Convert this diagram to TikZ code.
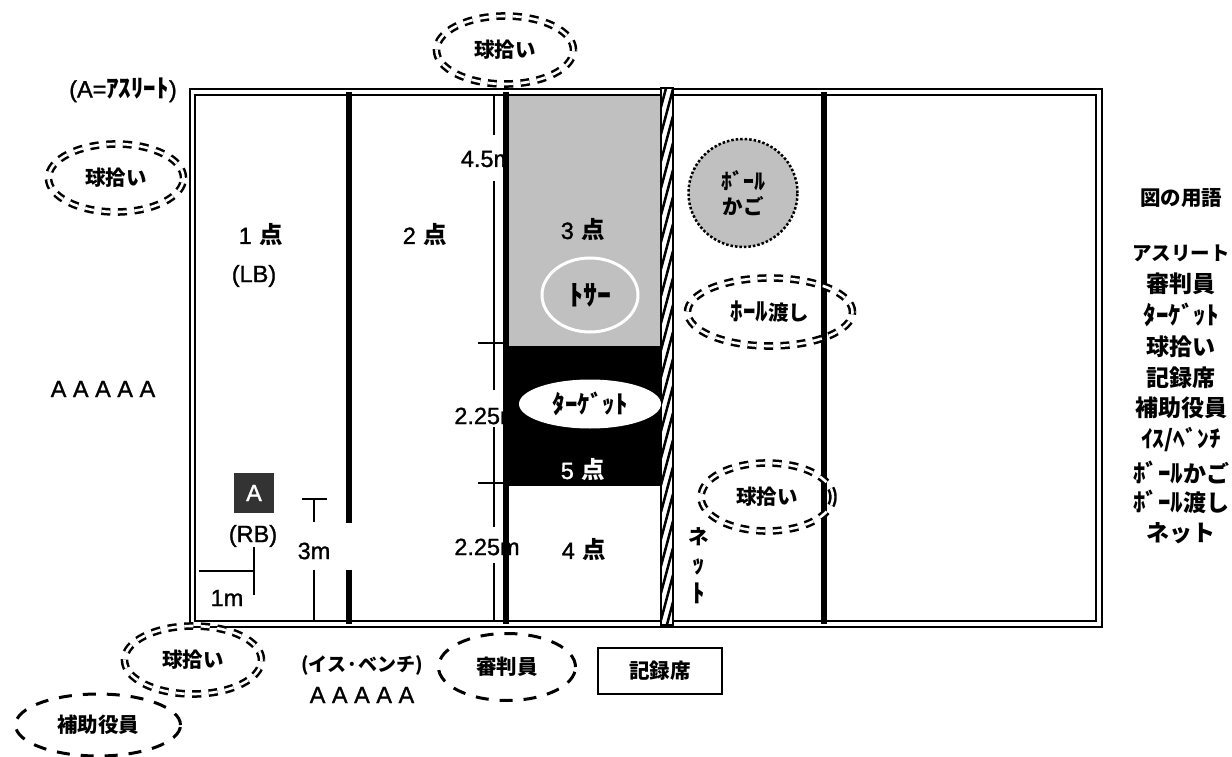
\documentclass[tikz,border=0pt]{standalone}
\usepackage{fontspec}
\setmainfont{Liberation Sans}[FakeBold=1.2]
\newfontfamily\jpfont{Noto Sans CJK JP}
\usetikzlibrary{shapes.geometric}
\newcommand{\jp}[1]{{\jpfont\bfseries #1}}
\newcommand{\hk}[2][25]{{\fontsize{#1}{#1}\selectfont\jp{#2}}}
\definecolor{courtgray}{RGB}{192,192,192}
\definecolor{boxgray}{RGB}{51,51,51}
\tikzstyle{every node} = [font=\fontsize{23.5}{28}\selectfont, inner sep=0pt]
\tikzstyle{jplabel} = [font=\fontsize{20.5}{25}\selectfont]
\tikzstyle{keylabel} = [font=\fontsize{23}{25}\selectfont]
\tikzstyle{pickup} = [ellipse, draw, jplabel, line width=2.5pt, double, double distance=2.6pt, dash pattern=on 9pt off 7.5pt, minimum height=68pt]
\tikzstyle{staff} = [ellipse, draw, jplabel, line width=3pt, dash pattern=on 13pt off 11pt]
\tikzstyle{zoneline} = [line width=5.5pt]
\tikzstyle{dimline} = [line width=1.4pt]

\begin{document}
\begin{tikzpicture}[x=1pt, y=-1pt]
        \useasboundingbox (0,0) rectangle (1232,757);
        \node (dimtop) at (487,159) {4.5m};
        \node (dimmid) at (487,416) {2.25m};
        \node (dimlow) at (487,547) {2.25m};
        \draw[dimline] (494,92) -- (494,135) (494,181) -- (494,390) (494,427) -- (494,527) (494,563) -- (494,622);
        \draw[dimline] (478,343) -- (506,343) (478,483) -- (506,483);
        \fill[courtgray] (509,95) rectangle (660,346);
        \fill[black] (503,346) rectangle (662,486);
        \draw[line width=2.2pt, double, double distance=3.4pt] (192.5,92) rectangle (1099,624);
        \draw[zoneline] (349,92) -- (349,523) (349,570) -- (349,624);
        \draw[zoneline] (506,92) -- (506,624);
        \draw[zoneline] (824,92) -- (824,624);
        \fill[white] (661,88) rectangle (673,625);
        \begin{scope}
            \clip (661,88) rectangle (673,625);
            \foreach \y in {80,107,...,680}
                \draw[line width=2.5pt] (661,\y) -- (673,\y-45);
        \end{scope}
        \draw[line width=1.5pt] (661,88) rectangle (673,625);
        \node (one) at (261,235) {1\,\,\jp{点}};
        \node (lb) at (254,276) {(LB)};
        \node (two) at (425,235) {2\,\,\jp{点}};
        \node (three) at (583,230) {3\,\,\jp{点}};
        \node[text=white] (five) at (583,470) {5\,\,\jp{点}};
        \node (four) at (584,550) {4\,\,\jp{点}};
        \node[ellipse, draw=white, line width=3pt, jplabel, minimum width=96pt, minimum height=74pt] (tosser) at (590,295) {\hk[28]{ﾄｻｰ}};
        \node[ellipse, fill=white, jplabel, minimum width=142pt, minimum height=49pt] (target) at (590,404) {\hk{ﾀｰｹﾞｯﾄ}};
        \node[ellipse, draw, fill=courtgray, line width=2.5pt, dash pattern=on 2.5pt off 2pt, jplabel, align=center, minimum width=109pt, minimum height=108pt] (basket) at (743,193) {\hk[22]{ﾎﾞｰﾙ}\\\jp{かご}};
        \node[pickup, minimum width=137pt] (pickuptop) at (505,50) {\jp{球拾い}};
        \node[pickup, minimum width=135pt] (pickupleft) at (116,178) {\jp{球拾い}};
        \node[pickup, minimum width=137pt] (pickuplow) at (193,660) {\jp{球拾い}};
        \node[pickup, minimum width=132pt] (pickupright) at (767,497) {\jp{球拾い}};
        \node[pickup, minimum width=165pt] (passer) at (770,312) {\hk{ﾎｰﾙ}\jp{渡し}};
        \node[staff, minimum width=137pt, minimum height=67pt] (referee) at (507,667) {\jp{審判員}};
        \node[staff, minimum width=165pt, minimum height=62pt] (assistant) at (98,725) {\jp{補助役員}};
        \node[draw, line width=1.7pt, jplabel, minimum width=124pt, minimum height=46pt] (record) at (660,671) {\raisebox{-5pt}{\jp{記録席}}};
        \node[fill=boxgray, text=white, minimum size=40pt] (athlete) at (254,493) {A};
        \node (rb) at (253,536) {(RB)};
        \node (onem) at (227,598) {1m};
        \node (threem) at (314,551) {3m};
        \draw[dimline] (254,547) -- (254,595);
        \draw[dimline] (199,571) -- (254,571);
        \draw[dimline] (302,499) -- (327,499);
        \draw[dimline] (314,499) -- (314,522) (314,570) -- (314,622);
        \node (athletekey) at (123,90) {(A=\hk{ｱｽﾘｰﾄ})};
        \node (rowleft) at (103,389) {A A A A A};
        \node (benchname) at (362,665) {\jp{\fontsize{19}{23}\selectfont (イス·ベンチ)}};
        \node (rowbench) at (362,695) {A A A A A};
        \node[align=center, font=\fontsize{20.5}{29}\selectfont] (netname) at (699,566) {\jp{ネ}\\\hk{ｯ}\\\hk{ﾄ}};
        \node[jplabel] (keytitle) at (1181,198) {\jp{図の用語}};
        \foreach \y/\keyname in {253/{\jp{\fontsize{19.5}{24}\selectfont アスリート}}, 284/\jp{審判員}, 315/\hk{ﾀｰｹﾞｯﾄ}, 347/\jp{球拾い}, 378/\jp{記録席}, 408/\jp{補助役員}, 440/\hk[23.5]{ｲｽ/ﾍﾞﾝﾁ}, 472/{\hk{ﾎﾞｰﾙ}\jp{かご}}, 502/{\hk{ﾎﾞｰﾙ}\jp{渡し}}, 533/\jp{ネット}}
            \node[keylabel] (key\y) at (1181,\y) {\keyname};
    \end{tikzpicture}
\end{document}
